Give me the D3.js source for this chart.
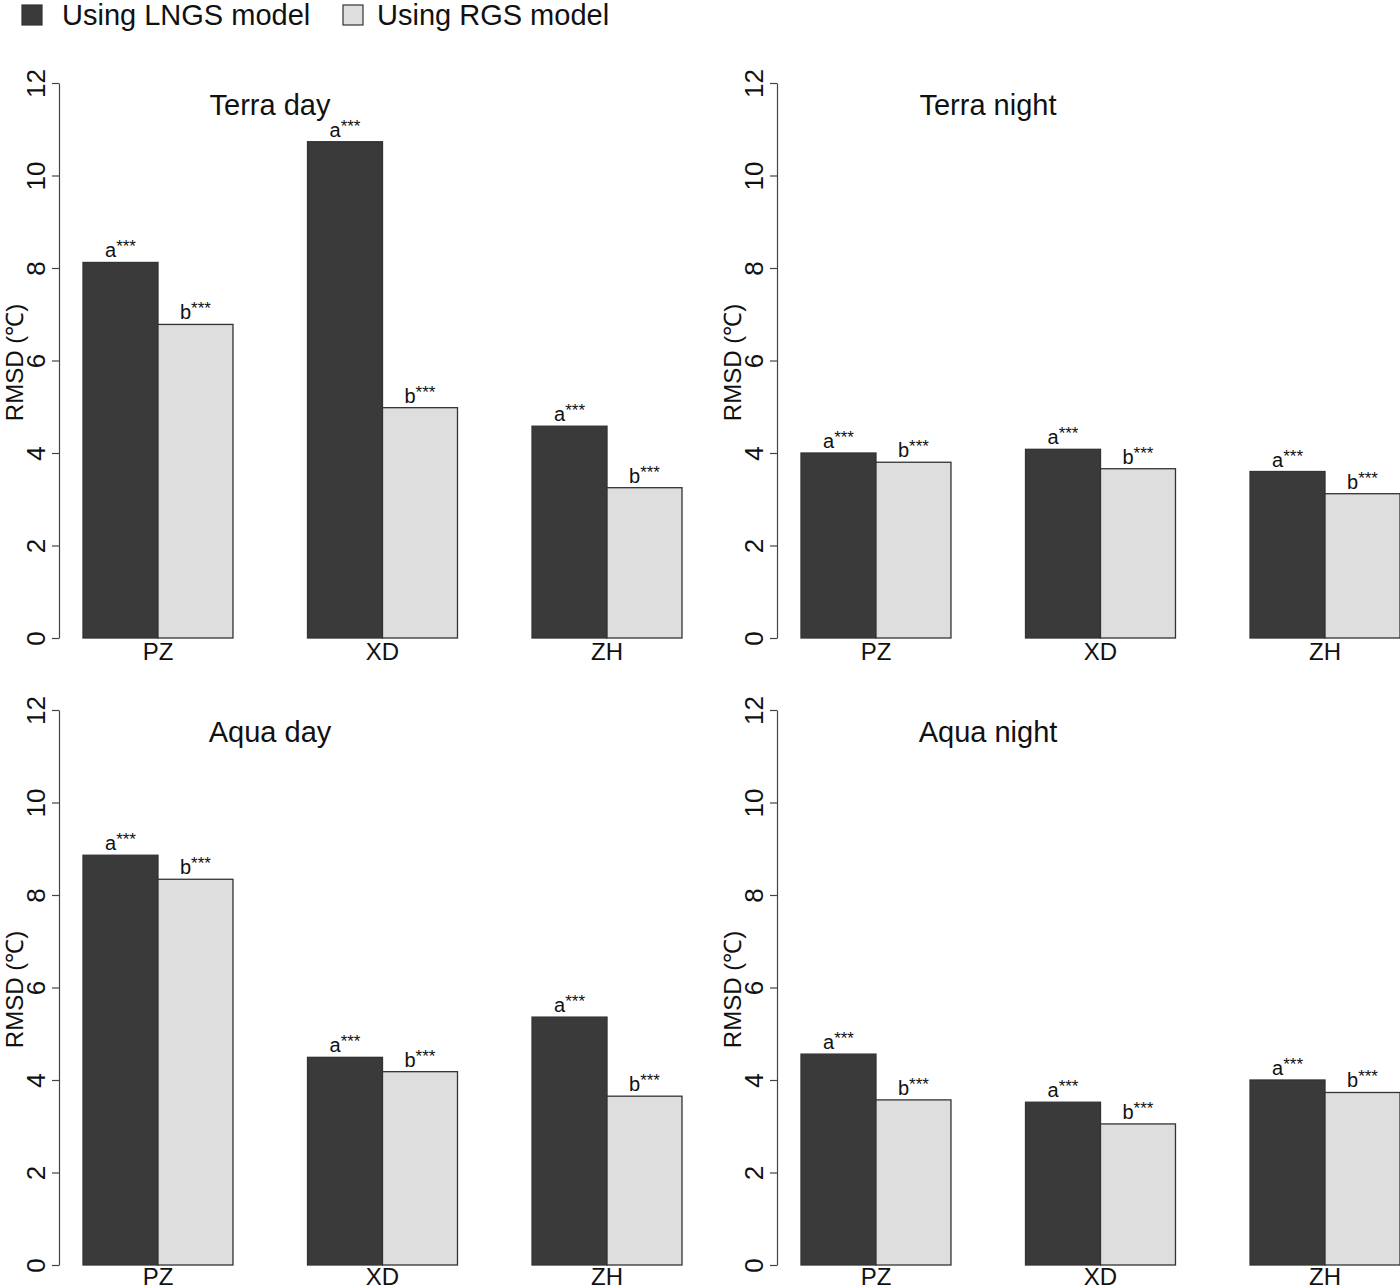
<!DOCTYPE html>
<html>
<head>
<meta charset="utf-8">
<script src="https://cdn.jsdelivr.net/npm/d3@7"></script>
<style>
  body { margin: 0; background: #fff; }
  svg { display: block; font-family: "Liberation Sans", Arial, sans-serif; }
</style>
</head>
<body>
<svg id="chart"></svg>
<script>
// data
const sites = ["PZ", "XD", "ZH"];
const seriesNames = ["Using LNGS model", "Using RGS model"];
const panelTitles = ["Terra day", "Terra night", "Aqua day", "Aqua night"];
const lngsValues = [
    [8.12, 10.73, 4.58],
    [4.0, 4.08, 3.6],
    [8.86, 4.49, 5.36],
    [4.56, 3.52, 4.0]
];
const rgsValues = [
    [6.78, 4.98, 3.25],
    [3.8, 3.66, 3.12],
    [8.34, 4.18, 3.65],
    [3.57, 3.05, 3.73]
];
const letters = ["a", "b"];
const yTicks = [0, 2, 4, 6, 8, 10, 12];

const colors = ["#3a3a3a", "#dedede"];

const svg = d3.select("#chart").attr("width", 1400).attr("height", 1288);

// legend
const legend = svg.append("g");
[[22, 62], [343, 377]].forEach((p, i) => {
    legend.append("rect")
        .attr("x", p[0]).attr("y", 5).attr("width", 20).attr("height", 20)
        .attr("fill", colors[i]).attr("stroke", "#333").attr("stroke-width", 1.2);
    legend.append("text")
        .attr("x", p[1]).attr("y", 25)
        .attr("font-size", 29).attr("fill", "#111")
        .text(seriesNames[i]);
});

// panel positions: axis x, y of zero, y of 12
const panels = [
    { ax: 59, y0: 638, y1: 83 },
    { ax: 777, y0: 638, y1: 83 },
    { ax: 59, y0: 1265, y1: 710 },
    { ax: 777, y0: 1265, y1: 710 }
];

panels.forEach((p, pi) => {
    const g = svg.append("g").attr("transform", `translate(${p.ax},0)`);

    const y = d3.scaleLinear().domain([0, 12]).range([p.y0, p.y1]);
    const x0 = d3.scaleBand().domain(sites).range([24, 623]).paddingInner(0.332).paddingOuter(0);
    const x1 = d3.scaleBand().domain([0, 1]).range([0, x0.bandwidth()]);

    // y axis
    const axis = g.append("g")
        .call(d3.axisLeft(y).tickValues(yTicks).tickSize(7).tickSizeOuter(0).tickFormat(d3.format("d")));
    axis.select(".domain").attr("stroke", "#444").attr("stroke-width", 1.2);
    axis.selectAll(".tick line").attr("stroke", "#444").attr("stroke-width", 1.2);
    axis.selectAll(".tick text")
        .attr("x", 0).attr("y", 0).attr("dy", 0)
        .attr("transform", "translate(-23,0) rotate(-90)")
        .attr("text-anchor", "middle").attr("dominant-baseline", "central")
        .attr("font-size", 26).attr("fill", "#111");
    axis.attr("font-family", null);

    // y label
    g.append("text")
        .attr("transform", `translate(-45,${(p.y0 + p.y1) / 2 + 2}) rotate(-90)`)
        .attr("text-anchor", "middle").attr("dominant-baseline", "central")
        .attr("font-size", 24).attr("fill", "#111")
        .text("RMSD (℃)");

    // title
    g.append("text")
        .attr("x", 211).attr("y", p.y1 + 32)
        .attr("text-anchor", "middle")
        .attr("font-size", 29).attr("fill", "#111")
        .text(panelTitles[pi]);

    const vals = [lngsValues[pi], rgsValues[pi]];
    const groups = g.selectAll(".grp").data(sites).join("g")
        .attr("transform", d => `translate(${x0(d)},0)`);

    groups.each(function(site, si) {
        const gg = d3.select(this);
        [0, 1].forEach(k => {
            const v = vals[k][si];
            gg.append("rect")
                .attr("x", x1(k)).attr("y", y(v))
                .attr("width", x1.bandwidth()).attr("height", y(0) - y(v))
                .attr("fill", colors[k]).attr("stroke", "#333").attr("stroke-width", 1.3);
            const t = gg.append("text")
                .attr("x", x1(k) + x1.bandwidth() / 2).attr("y", y(v) - 5)
                .attr("text-anchor", "middle").attr("fill", "#111");
            t.append("tspan").attr("font-size", 20).text(letters[k]);
            t.append("tspan").attr("font-size", 17).attr("dy", -5).text("***");
        });
        gg.append("text")
            .attr("x", x0.bandwidth() / 2).attr("y", Math.min(p.y0 + 22, 1285))
            .attr("text-anchor", "middle")
            .attr("font-size", 24).attr("fill", "#111")
            .text(site);
    });
});
</script>
</body>
</html>
